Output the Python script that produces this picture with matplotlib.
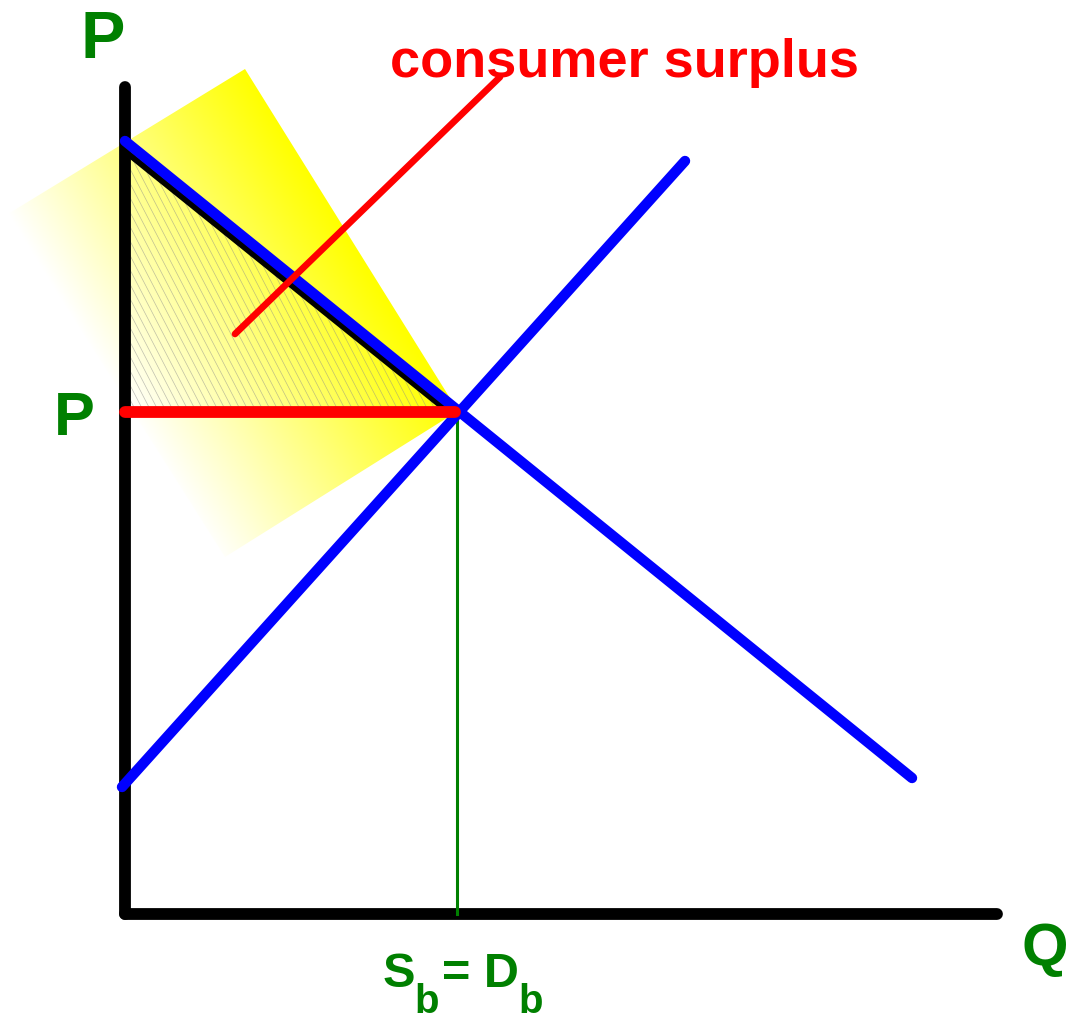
import numpy as np
import matplotlib
matplotlib.use("Agg")
import matplotlib.pyplot as plt
from matplotlib.patches import Polygon
from matplotlib.collections import LineCollection
from matplotlib.colors import LinearSegmentedColormap

# ---- data (units: 1 unit = 100 px, origin at axes corner) ----
axis_p_top = 8.27
axis_q_right = 8.72
demand_q = [0.0, 7.87]
demand_p = [7.73, 1.36]
supply_q = [-0.03, 5.60]
supply_p = [1.27, 7.53]
eq_q = 3.32
eq_p = 5.02
surplus_q = [0.0, 0.0, 3.24]
surplus_p = [7.63, 5.02, 5.02]
glow_q = [1.20, 3.33, 1.00, -1.17]
glow_p = [8.45, 5.03, 3.57, 7.00]
pointer_q = [1.10, 3.75]
pointer_p = [5.80, 8.37]
label_title = "consumer surplus"

GREEN = "#008000"
FONT = "Liberation Sans"

fig = plt.figure(figsize=(10.68, 10.20), dpi=100)
ax = fig.add_axes([0, 0, 1, 1])
ax.set_xlim(-1.25, 9.43)
ax.set_ylim(-1.05, 9.15)
ax.axis("off")

# ---- yellow glow rectangle with gradient ----
glow = Polygon(list(zip(glow_q, glow_p)), closed=True, facecolor="none", edgecolor="none")
ax.add_patch(glow)
xs = np.linspace(min(glow_q), max(glow_q), 400)
ys = np.linspace(min(glow_p), max(glow_p), 400)
X, Y = np.meshgrid(xs, ys)
p_left = np.array([glow_q[3], glow_p[3]])
p_top = np.array([glow_q[0], glow_p[0]])
d = p_top - p_left
L = np.hypot(*d)
d = d / L
T = ((X - p_left[0]) * d[0] + (Y - p_left[1]) * d[1]) / L
T = np.clip(T, 0, 1)
cmap = LinearSegmentedColormap.from_list("wy", ["#ffffff", "#ffff00"])
im = ax.imshow(T, extent=[xs[0], xs[-1], ys[0], ys[-1]], origin="lower",
               cmap=cmap, vmin=0, vmax=1, interpolation="bilinear", zorder=1, aspect="auto")
im.set_clip_path(glow)

# ---- hatched triangle ----
tri = Polygon(list(zip(surplus_q, surplus_p)), closed=True, facecolor="none",
              edgecolor="black", linewidth=4.5, joinstyle="miter", zorder=3)
ax.add_patch(tri)
segs = []
for x0 in np.arange(-6, 6, 0.075):
    segs.append([(x0, 10.0), (x0 + 5.2, 0.0)])
hatch = LineCollection(segs, colors="#8a8a8a", linewidths=0.5, alpha=0.55, zorder=2)
ax.add_collection(hatch)
hatch.set_clip_path(tri)

# ---- axes ----
ax.plot([0, 0], [0, axis_p_top], color="black", lw=8.5, solid_capstyle="round", zorder=4)
ax.plot([0, axis_q_right], [0, 0], color="black", lw=8.5, solid_capstyle="round", zorder=4)

# ---- equilibrium guides ----
ax.plot([eq_q, eq_q], [0, eq_p], color=GREEN, lw=2.2, zorder=5)
ax.plot([0, eq_q - 0.02], [eq_p, eq_p], color="red", lw=8.5, solid_capstyle="round", zorder=7)

# ---- curves ----
ax.plot(demand_q, demand_p, color="#0000ff", lw=7.5, solid_capstyle="round", zorder=6)
ax.plot(supply_q, supply_p, color="#0000ff", lw=7.5, solid_capstyle="round", zorder=6)

# ---- pointer ----
ax.plot(pointer_q, pointer_p, color="red", lw=4.8, solid_capstyle="round", zorder=8)

# ---- text ----
tk = dict(family=FONT, weight="bold")
ax.text(2.65, 8.38, label_title, color="red", fontsize=39, ha="left", va="baseline", **tk)
ax.text(-0.45, 8.57, "P", color=GREEN, fontsize=48, ha="left", va="baseline", **tk)
ax.text(-0.71, 4.80, "P", color=GREEN, fontsize=44, ha="left", va="baseline", **tk)
ax.text(8.97, -0.50, "Q", color=GREEN, fontsize=43, ha="left", va="baseline", **tk)
ax.text(2.58, -0.72, "S", color=GREEN, fontsize=35, ha="left", va="baseline", **tk)
ax.text(2.89, -0.985, "b", color=GREEN, fontsize=29, ha="left", va="baseline", **tk)
ax.text(3.17, -0.72, "= D", color=GREEN, fontsize=35, ha="left", va="baseline", **tk)
ax.text(3.93, -0.985, "b", color=GREEN, fontsize=29, ha="left", va="baseline", **tk)

fig.savefig("out.png", dpi=100)
